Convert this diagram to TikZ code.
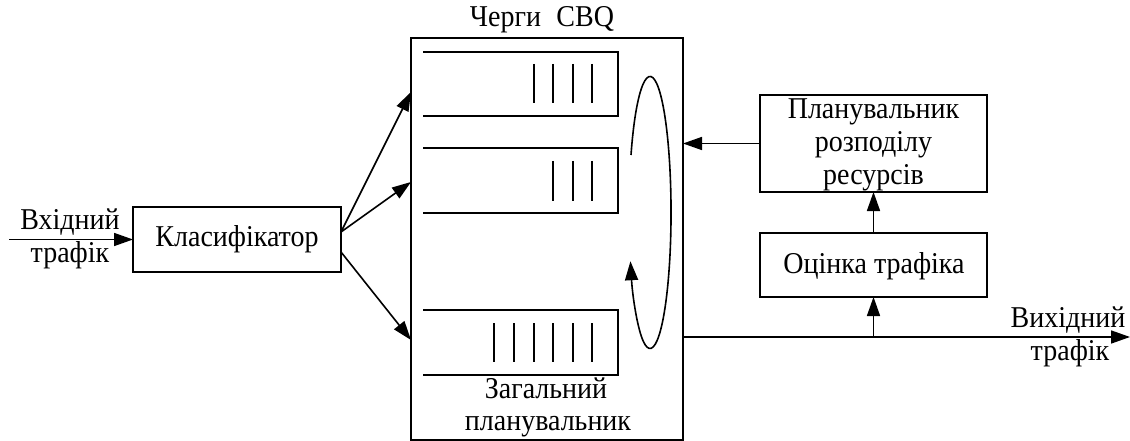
\documentclass[tikz,border=0pt]{standalone}
\usepackage{graphicx}
\usepackage{fontspec}
\setmainfont{Liberation Serif}
\usetikzlibrary{arrows.meta}
\newcommand{\tallText}[1]{\scalebox{1}[1.08]{#1}}
\begin{document}
\begin{tikzpicture}[x=1pt,y=-1pt,
  line width=1.6pt,
  every node/.style={inner sep=0pt,outer sep=0pt},
  txt/.style={font=\fontsize{28}{33}\selectfont},
  blk/.style={draw,rectangle},
  arr/.style={-{Triangle[length=19pt,width=13pt]}},
  bar/.style={line width=1.5pt}]
\useasboundingbox (0,0) rectangle (1130,441);

% main blocks
\node[blk,txt,minimum width=208,minimum height=65] (cls) at (237,239.5) {\tallText{Класифікатор}};
\node[blk,minimum width=272,minimum height=402] (cbq) at (547,239) {};
\node[blk,minimum width=227,minimum height=97] (sched) at (873.5,143.5) {};
\node[blk,minimum width=227,minimum height=64] (est) at (873.5,265) {};

% labels
\node[txt,anchor=base] (ttl) at (542,27) {\tallText{Черги\hspace{0.55em}CBQ}};
\node[txt,anchor=base] (gen1) at (546,398) {\tallText{Загальний}};
\node[txt,anchor=base] (gen2) at (548,430) {\tallText{планувальник}};
\node[txt,anchor=base] (s1) at (873.5,119) {\tallText{Планувальник}};
\node[txt,anchor=base] (s2) at (873.5,152) {\tallText{розподілу}};
\node[txt,anchor=base] (s3) at (873.5,185) {\tallText{ресурсів}};
\node[txt,anchor=base] (e1) at (874,273) {\tallText{Оцінка трафіка}};
\node[txt,anchor=base] (in1) at (70,229) {\tallText{Вхідний}};
\node[txt,anchor=base] (in2) at (70,262) {\tallText{трафік}};
\node[txt,anchor=base] (out1) at (1068,327) {\tallText{Вихідний}};
\node[txt,anchor=base] (out2) at (1070,360) {\tallText{трафік}};

% queues (open on the left)
\draw (423,52) -- (618,52) -- (618,116) -- (423,116);
\draw (423,148) -- (618,148) -- (618,213) -- (423,213);
\draw (423,310) -- (618,310) -- (618,375) -- (423,375);
\foreach \x in {534,553,573,592} \draw[bar] (\x,64) -- (\x,103);
\foreach \x in {553,573,592} \draw[bar] (\x,161) -- (\x,201);
\foreach \x in {494,514,534,553,573,592} \draw[bar] (\x,323) -- (\x,362);

% round-robin loop of the scheduler
\coordinate (rr) at (631,155);
\draw[arr] (rr) arc[start angle=-155,end angle=159,x radius=21,y radius=136];

% connector points
\coordinate (inS) at (9,239.5);
\coordinate (c1) at (341,232);
\coordinate (c2) at (341,252);
\coordinate (q1) at (411,92);
\coordinate (q2) at (411,182);
\coordinate (q3) at (411,340);
\coordinate (fb) at (683,143.5);
\coordinate (o1) at (683,337);
\coordinate (oj) at (873.5,337);
\coordinate (oE) at (1130,337);

% connectors
\draw[arr] (inS) -- (cls.west);
\draw[arr] (c1) -- (q1);
\draw[arr] (c1) -- (q2);
\draw[arr] (c2) -- (q3);
\draw[arr] (sched.west) -- (fb);
\draw[arr] (est.north) -- (sched.south);
\draw[arr] (o1) -- (oE);
\draw[arr] (oj) -- (est.south);
\end{tikzpicture}
\end{document}
